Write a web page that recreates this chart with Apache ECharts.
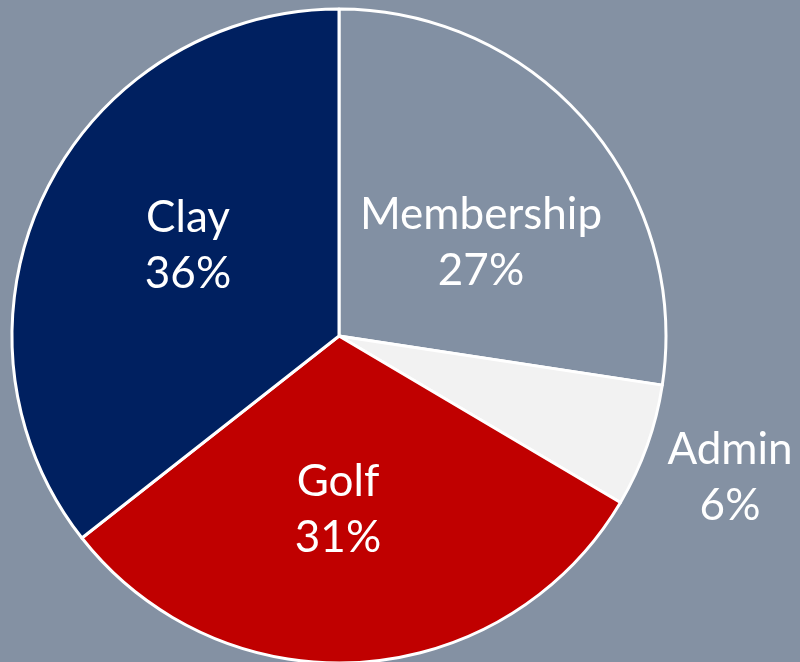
<!DOCTYPE html>
<html><head><meta charset="utf-8">
<script src="https://cdn.jsdelivr.net/npm/echarts@6/dist/echarts.min.js"></script>
<style>html,body{margin:0;padding:0;background:#8491A3;}#c{width:800px;height:662px;}</style>
</head><body><div id="c"></div>
<script>
const categories = ['Membership', 'Admin', 'Golf', 'Clay'];
const values = [27.4, 6.1, 30.9, 35.6];
const percentLabels = ['27%', '6%', '31%', '36%'];
const colors = ['#8290A3', '#F2F2F2', '#C00000', '#002060'];

const chart = echarts.init(document.getElementById('c'));
chart.setOption({
  backgroundColor: '#8491A3',
  animation: false,
  series: [{
    type: 'pie',
    center: [339, 336],
    radius: [0, 327],
    startAngle: 90,
    clockwise: true,
    data: categories.map((c, i) => ({
      name: c, value: values[i], itemStyle: { color: colors[i] },
      label: { position: i === 1 ? 'outside' : 'inside' },
      labelLine: { show: false }
    })),
    itemStyle: { borderColor: '#FFFFFF', borderWidth: 3 },
    label: {
      show: true,
      formatter: p => p.name + '\n' + percentLabels[p.dataIndex],
      color: '#FFFFFF',
      fontFamily: 'Lato',
      fontSize: 44,
      lineHeight: 56,
      align: 'center',
      overflow: 'none',
      width: 300
    },
    labelLine: { show: false },
    labelLayout: function (p) {
      const map = { 0: [481, 243], 1: [730, 478], 2: [338, 510], 3: [188, 246] };
      const xy = map[p.dataIndex];
      return { x: xy[0], y: xy[1], align: 'center', verticalAlign: 'middle', width: 300 };
    }
  }]
});
</script></body></html>
